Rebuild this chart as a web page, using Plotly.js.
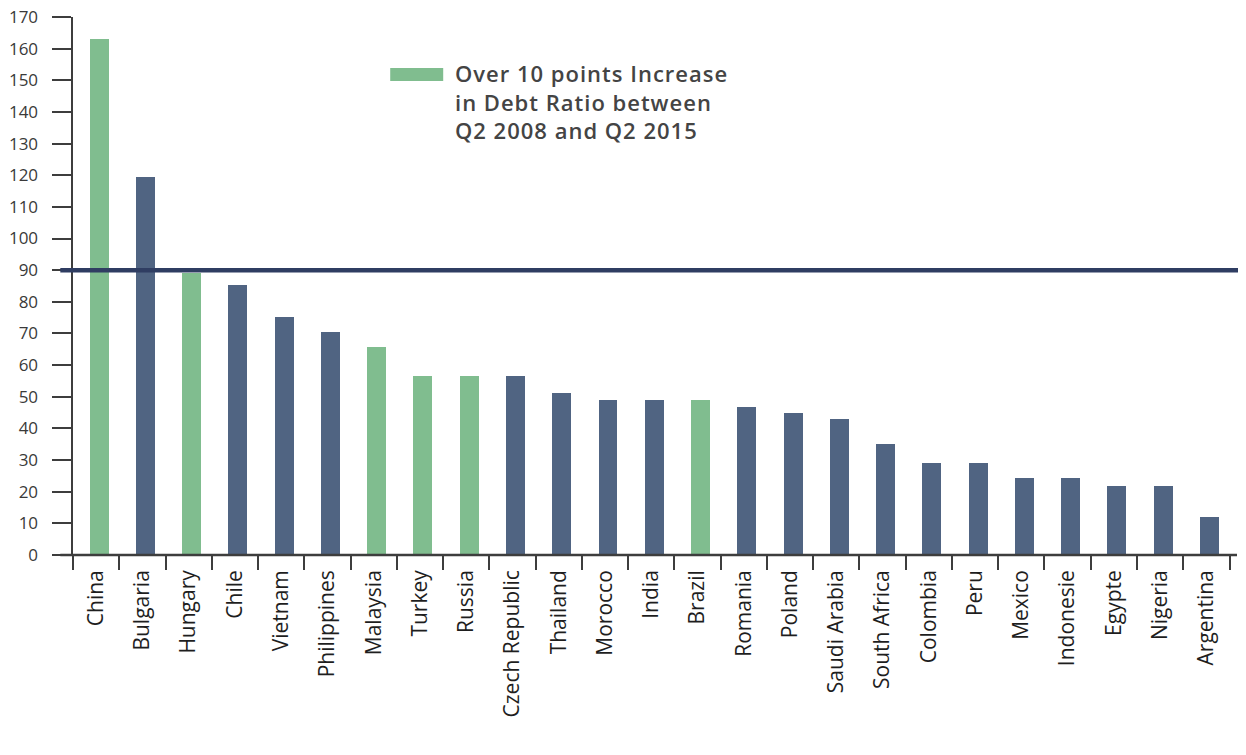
<!DOCTYPE html>
<html>
<head>
<meta charset="utf-8">
<script src="https://cdn.plot.ly/plotly-3.0.1.min.js"></script>
<style>
html,body{margin:0;padding:0;background:#fff;}
#chart{width:1246px;height:755px;}
#chart .annotation-text{letter-spacing:1px;}
</style>
</head>
<body>
<div id="chart"></div>
<script>
var countries = ["China","Bulgaria","Hungary","Chile","Vietnam","Philippines","Malaysia","Turkey","Russia","Czech Republic","Thailand","Morocco","India","Brazil","Romania","Poland","Saudi Arabia","South Africa","Colombia","Peru","Mexico","Indonesie","Egypte","Nigeria","Argentina"];
var debtRatio = [163, 119.5, 89, 85.3, 75.2, 70.5, 65.7, 56.6, 56.6, 56.6, 51.2, 49, 49, 49, 46.8, 44.9, 43, 35.1, 29, 29, 24.3, 24.3, 21.8, 21.8, 12];
var bigIncrease = [true,false,true,false,false,false,true,true,true,false,false,false,false,true,false,false,false,false,false,false,false,false,false,false,false];
var threshold = 90;
var yTicks = [0,10,20,30,40,50,60,70,80,90,100,110,120,130,140,150,160,170];
var legendText = "Over 10 points Increase<br>in Debt Ratio between<br>Q2 2008 and Q2 2015";

var GREEN = "#80bd8f", NAVY = "#506482", LINE = "#2f3d62", AX = "#3d3d3d";
var FONT = "'Open Sans', 'Noto Sans', sans-serif";
var colors = bigIncrease.map(function(b){ return b ? GREEN : NAVY; });

var W = 1246, H = 755, L = 72.7, R = 9, T = 17, B = 200;
var pw = W - L - R;
var catW = (1229.5 - 72.7) / 25;
var xmax = -0.5 + pw / catW;

var trace = {
  type: "bar",
  x: countries,
  y: debtRatio,
  marker: {color: colors, line: {width: 0}},
  width: 0.41,
  offset: -0.14,
  hoverinfo: "x+y",
  showlegend: false
};

function px2paperX(px){ return (px - L) / pw; }

var layout = {
  width: W, height: H,
  margin: {l: L, r: R, t: T, b: B, pad: 0},
  paper_bgcolor: "#fff", plot_bgcolor: "#fff",
  font: {family: FONT, color: AX},
  bargap: 0,
  xaxis: {
    type: "category",
    range: [-0.5, xmax],
    showgrid: false, zeroline: false,
    showline: false,
    ticks: "outside", tickson: "boundaries", ticklen: 14, tickwidth: 2, tickcolor: AX,
    tickangle: -90,
    tickfont: {size: 21, color: "#1e1e1e", family: FONT},
    ticklabelstandoff: 10,
    fixedrange: true
  },
  yaxis: {
    range: [0, 170],
    tickvals: yTicks,
    showgrid: false, zeroline: false,
    showline: true, linecolor: AX, linewidth: 2.5,
    ticks: "outside", ticklen: 19, tickwidth: 2, tickcolor: AX,
    tickfont: {size: 17, color: "#3a3a3a", family: FONT},
    ticklabelstandoff: 10,
    fixedrange: true
  },
  shapes: [
    {type: "line", xref: "paper", yref: "paper", x0: px2paperX(60), x1: px2paperX(1237), y0: 0, y1: 0,
     line: {color: AX, width: 2.5}},
    {type: "line", xref: "paper", yref: "paper", x0: px2paperX(60), x1: px2paperX(1238),
     y0: threshold / 170, y1: threshold / 170, line: {color: LINE, width: 4.5}},
    {type: "rect", xref: "paper", yref: "paper", x0: px2paperX(390), x1: px2paperX(443),
     y0: (555 - 81) / 538, y1: (555 - 68) / 538, fillcolor: GREEN, line: {width: 0}}
  ],
  annotations: [
    {xref: "paper", yref: "paper", x: px2paperX(453), y: (555 - 56) / 538,
     xanchor: "left", yanchor: "top", align: "left", showarrow: false,
     text: legendText,
     font: {size: 22, weight: 600, color: "#444", family: FONT}}
  ],
  showlegend: false
};

Plotly.newPlot("chart", [trace], layout, {displayModeBar: false, staticPlot: true});
</script>
</body>
</html>
